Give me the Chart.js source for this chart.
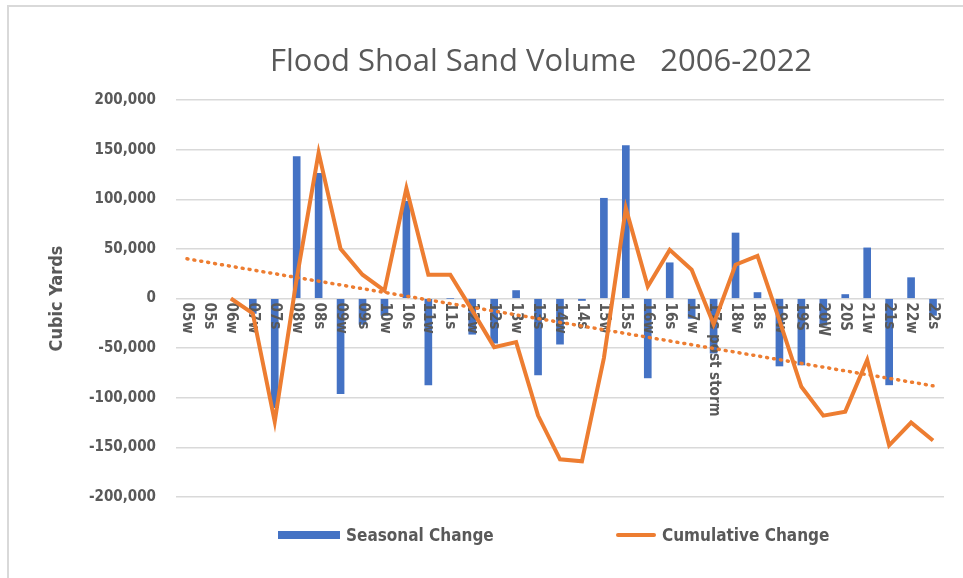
<!DOCTYPE html>
<html>
<head>
<meta charset="utf-8">
<script src="https://cdn.jsdelivr.net/npm/chart.js@4.4.1/dist/chart.umd.min.js"></script>
<style>
    body { margin: 0; background: #fff; overflow: hidden; }
    #wrap { position: relative; width: 963px; height: 578px; }
    #frame { position: absolute; left: 7px; top: 5px; width: 1000px; height: 1000px;
             border-top: 2px solid #d9d9d9; border-left: 2px solid #d9d9d9; }
    #title { position: absolute; left: 541px; top: 38px; transform: translateX(-50%);
             font: 31px 'Open Sans', sans-serif; color: #595959; white-space: pre; }
    canvas { position: absolute; left: 0; top: 0; }
    .leg { position: absolute; top: 524px; height: 22px; display: flex; align-items: center;
           font: bold 17px 'DejaVu Sans Condensed', 'DejaVu Sans', sans-serif; color: #595959; }
    .leg span { display: inline-block; margin-right: 6px; }
</style>
</head>
<body>
<div id="wrap">
    <div id="frame"></div>
    <canvas id="shoalChart" width="963" height="578"></canvas>
    <div id="title">Flood Shoal Sand Volume   2006-2022</div>
    <div class="leg" id="legSeasonal" style="left: 278px;"><span style="width: 62px; height: 8px;"></span></div>
    <div class="leg" id="legCumulative" style="left: 616px;"><span style="width: 40px; height: 4px; border-radius: 2px;"></span></div>
</div>
<script>
// survey labels (w = winter, s = summer)
const surveys = ['05w', '05s', '06w', '07w', '07s', '08w', '08s', '09w', '09s', '10w', '10s', '11w',
    '11s', '12w', '12s', '13w', '13s', '14w', '14s', '15w', '15s', '16w', '16s', '17w',
    '17s post storm', '18w', '18s', '19w', '19S', '20W', '20S', '21w', '21s', '22w', '22s'];

// cubic yards
const seasonalChange = [null, null, null, -15000, -110000, 143000, 126000, -96000, -26000, -17000, 98000, -87000,
    0, -36000, -45000, 8000, -77000, -46000, -2000, 101000, 154000, -80000, 36000, -20000,
    -55000, 66000, 6000, -68000, -67000, -27000, 4000, 51000, -87000, 21000, -17000];

const cumulativeChange = [null, null, 0, -15000, -124000, 20000, 147000, 50000, 24000, 8000, 111000, 24000,
    24000, -12000, -49000, -44000, -118000, -162000, -164000, -60000, 91000, 12000, 49000, 29000,
    -26000, 34000, 43000, -22000, -89000, -118000, -114000, -62000, -148000, -125000, -143000];

// linear trend of the cumulative series, only its two ends
const trendEnds = [40000, null, null, null, null, null, null, null, null, null, null, null,
    null, null, null, null, null, null, null, null, null, null, null, null,
    null, null, null, null, null, null, null, null, null, null, -88000];

const yTicks = [-200000, -150000, -100000, -50000, 0, 50000, 100000, 150000, 200000];

const fontFamily = "'DejaVu Sans Condensed', 'DejaVu Sans', sans-serif";
const grey = '#595959';

// category labels sit just under the zero line, turned clockwise
const zeroLineLabels = {
    id: 'zeroLineLabels',
    afterDatasetDraw(chart, args) {
        if (args.index !== 0) return;
        const ctx = chart.ctx;
        const xScale = chart.scales.x;
        const y0 = chart.scales.y.getPixelForValue(0);
        ctx.save();
        ctx.font = 'bold 15px ' + fontFamily;
        ctx.fillStyle = grey;
        ctx.textAlign = 'left';
        ctx.textBaseline = 'middle';
        surveys.forEach(function(label, i) {
            ctx.save();
            ctx.translate(xScale.getPixelForValue(i), y0 + 4);
            ctx.rotate(Math.PI / 2);
            ctx.fillText(label, 0, 0);
            ctx.restore();
        });
        ctx.restore();
    }
};

const ctx = document.getElementById('shoalChart').getContext('2d');
const chart = new Chart(ctx, {
    data: {
        labels: surveys,
        datasets: [{
            type: 'bar',
            label: 'Seasonal Change',
            data: seasonalChange,
            backgroundColor: '#4472C4',
            barThickness: 7,
            order: 3
        }, {
            type: 'line',
            label: 'Cumulative Change',
            data: cumulativeChange,
            borderColor: '#ED7D31',
            backgroundColor: '#ED7D31',
            borderWidth: 4,
            pointRadius: 0,
            tension: 0,
            order: 1
        }, {
            type: 'line',
            label: 'Trend',
            data: trendEnds,
            borderColor: '#ED7D31',
            borderWidth: 3.5,
            borderDash: [1, 6],
            borderCapStyle: 'round',
            pointRadius: 0,
            spanGaps: true,
            order: 2
        }]
    },
    options: {
        responsive: false,
        animation: false,
        devicePixelRatio: 1,
        layout: {
            padding: { left: 47, right: 19, top: 100, bottom: 81 }
        },
        scales: {
            x: {
                type: 'category',
                offset: true,
                display: false
            },
            y: {
                min: -200000,
                max: 200000,
                afterBuildTicks(scale) {
                    scale.ticks = yTicks.map(v => ({ value: v }));
                },
                afterFit(scale) {
                    scale.width = 129;
                },
                grid: {
                    color: '#d9d9d9',
                    lineWidth: 1.5,
                    drawTicks: false
                },
                border: { display: false },
                ticks: {
                    padding: 20,
                    color: grey,
                    font: { family: fontFamily, size: 15, weight: 'bold' },
                    callback: value => value.toLocaleString('en-US')
                },
                title: {
                    display: true,
                    text: 'Cubic Yards',
                    color: grey,
                    padding: 0,
                    font: { family: fontFamily, size: 18, weight: 'bold' }
                }
            }
        },
        plugins: {
            title: { display: false },
            tooltip: { enabled: false },
            legend: { display: false }
        }
    },
    plugins: [zeroLineLabels]
});

// legend under the plot, built from the first two datasets
function fillLegend(id, dataset, color) {
    const el = document.getElementById(id);
    el.querySelector('span').style.background = color;
    el.appendChild(document.createTextNode(dataset.label));
}
fillLegend('legSeasonal', chart.data.datasets[0], '#4472C4');
fillLegend('legCumulative', chart.data.datasets[1], '#ED7D31');
</script>
</body>
</html>
